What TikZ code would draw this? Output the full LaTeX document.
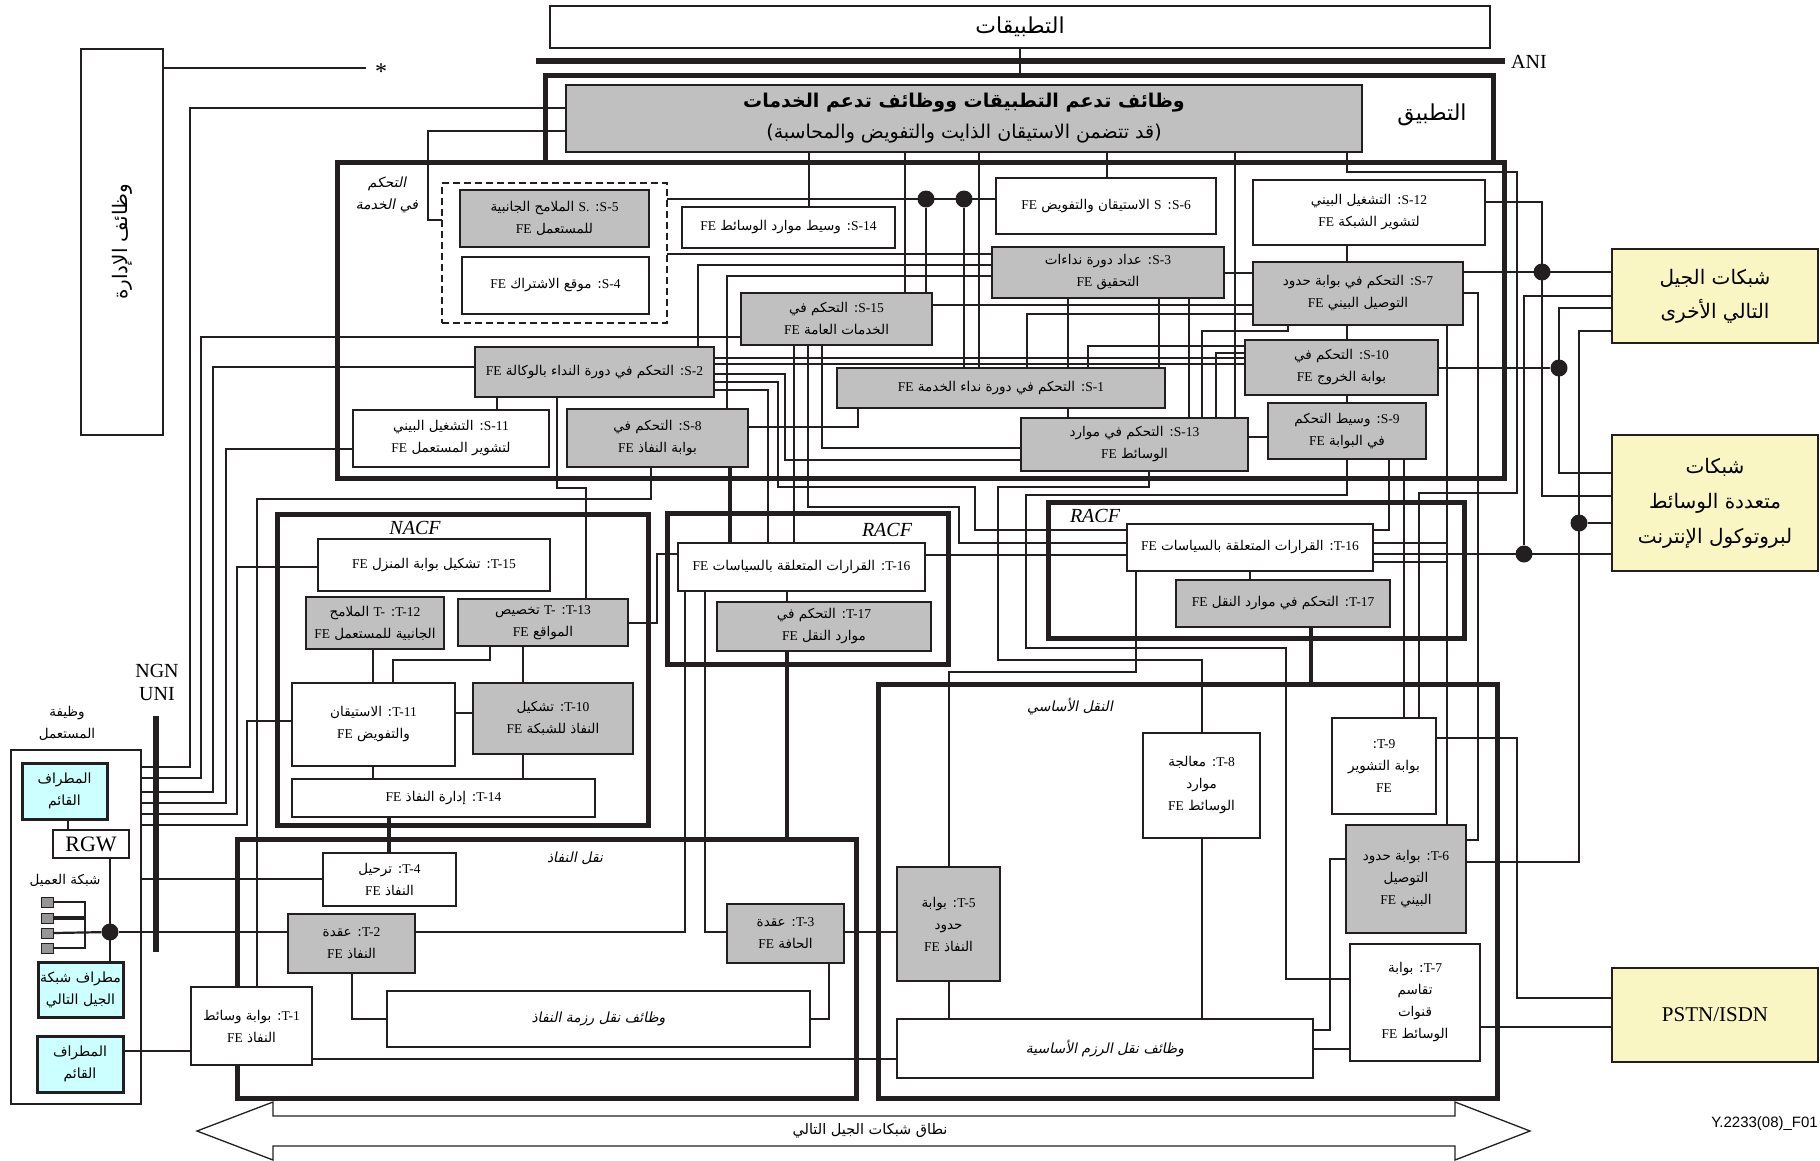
\documentclass[tikz,border=0pt]{standalone}
\usepackage{fontspec}
\setmainfont{Liberation Serif}
\newfontfamily\arabicfont[Script=Arabic]{DejaVu Sans}
\newfontfamily\arabicit[Script=Arabic,FakeSlant=0.2]{DejaVu Sans}
\newfontfamily\ysans{Liberation Sans}
\TeXXeTstate=1
\usetikzlibrary{fit}
\definecolor{lc}{RGB}{35,31,32}
\definecolor{gy}{RGB}{192,192,192}
\definecolor{yl}{RGB}{250,246,196}
\definecolor{cy}{RGB}{204,255,255}
\definecolor{sqc}{RGB}{150,150,150}
\newcommand\arb[1]{{\arabicfont\beginR #1\endR}}
\newcommand\ari[1]{{\arabicit\beginR #1\endR}}
\newcommand\ltr[1]{\beginL{\rmfamily #1}\endL}
\newcommand\fsz{\fontsize{13.5}{22}\selectfont}
% box node + centred text node
\newcommand\bx[8]{\node[#2, fit={(#4,#5) (#6,#7)}] (#1) {};\node[txt,#3] (#1t) at (#1.center) {#8};}
\pgfdeclarelayer{bg}
\pgfsetlayers{bg,main}
\tikzset{
  ln/.style={draw=lc, line width=2.2pt},
  tk/.style={draw=lc, line width=3.8pt},
  fe/.style={draw=lc, line width=2.4pt, fill=white, inner sep=0pt, outer sep=0pt},
  feg/.style={fe, fill=gy},
  frm/.style={draw=lc, line width=5pt, inner sep=0pt, outer sep=0pt},
  ext/.style={fe, fill=yl},
  term/.style={fe, fill=cy, line width=3pt},
  txt/.style={inner sep=0pt, align=center, font=\fsz},
  jd/.style={circle, fill=lc, inner sep=0pt, minimum size=17pt},
  lab/.style={inner sep=0pt, align=center},
  sqn/.style={draw=lc, fill=sqc, line width=1pt, minimum width=12pt, minimum height=10pt, inner sep=0pt},
}
\begin{document}
\begin{tikzpicture}[x=1pt,y=-1pt]
\useasboundingbox (0,0) rectangle (1820,1160);
% ---------- frames ----------
\node[frm, fit={(545,75) (1493,162)}] (fappl) {};
\node[frm, fit={(337,162) (1504,478)}] (fsc) {};
\node[frm, fit={(277,514) (648,825)}] (fnacf) {};
\node[frm, fit={(667,513) (948,664)}] (fracfa) {};
\node[frm, fit={(1048,502) (1464,638)}] (fracfb) {};
\node[frm, fit={(237,839) (856,1098)}] (fat) {};
\node[frm, fit={(878,684) (1497,1098)}] (fct) {};
\node[draw=lc, line width=2.2pt, dash pattern=on 7pt off 4pt, inner sep=0pt, outer sep=0pt, fit={(442,183) (667,323)}] (dsh) {};
\node[draw=lc, line width=2pt, inner sep=0pt, outer sep=0pt, fit={(11,750) (141,1104)}] (usr) {};
% ---------- top ----------
\bx{apps}{fe, line width=2pt}{font=\fontsize{22}{26}\selectfont}{550}{6}{1490}{48}{\arb{التطبيقات}}
\draw[draw=lc, line width=6pt] (536,61) -- (1505,61);
\node[anchor=west, inner sep=0pt, font=\fontsize{20}{20}\selectfont] (ani) at (1511,62) {ANI};
\bx{sup}{feg}{font=\fontsize{19}{24}\selectfont}{566}{85}{1362}{152}{{\bfseries\arb{وظائف تدعم التطبيقات ووظائف تدعم الخدمات}}\\[7pt]\arb{(قد تتضمن الاستيقان الذايت والتفويض والمحاسبة)}}
\node[lab, font=\fontsize{22}{26}\selectfont] (appl) at (1432,115) {\arb{التطبيق}};
\bx{mgmt}{fe}{rotate=90, font=\fontsize{20}{24}\selectfont}{81}{49}{163}{435}{\arb{وظائف الإدارة}}
\node[anchor=base, inner sep=0pt, font=\fontsize{24}{24}\selectfont] (star) at (381,79) {*};
% ---------- service control ----------
\node[lab, font=\fontsize{14}{22}\selectfont] (sclab) at (387,195) {\ari{التحكم}\\\ari{في الخدمة}};
\bx{S5}{feg}{}{460}{190}{649}{247}{\arb{\ltr{S-5}: \ltr{S.} الملامح الجانبية}\\\arb{للمستعمل \ltr{FE}}}
\bx{S4}{fe}{}{462}{257}{649}{314}{\arb{\ltr{S-4}: موقع الاشتراك \ltr{FE}}}
\bx{S14}{fe}{}{682}{207}{895}{248}{\arb{\ltr{S-14}: وسيط موارد الوسائط \ltr{FE}}}
\bx{S15}{feg}{}{741}{293}{932}{345}{\arb{\ltr{S-15}: التحكم في}\\\arb{الخدمات العامة \ltr{FE}}}
\bx{S6}{fe}{}{996}{178}{1216}{234}{\arb{\ltr{S-6}: \ltr{S} الاستيقان والتفويض \ltr{FE}}}
\bx{S3}{feg}{}{992}{247}{1224}{298}{\arb{\ltr{S-3}: عداد دورة نداءات}\\\arb{التحقيق \ltr{FE}}}
\bx{S12}{fe}{}{1253}{180}{1485}{245}{\arb{\ltr{S-12}: التشغيل البيني}\\\arb{لتشوير الشبكة \ltr{FE}}}
\bx{S7}{feg}{}{1253}{262}{1463}{325}{\arb{\ltr{S-7}: التحكم في بوابة حدود}\\\arb{التوصيل البيني \ltr{FE}}}
\bx{S10}{feg}{}{1245}{340}{1438}{395}{\arb{\ltr{S-10}: التحكم في}\\\arb{بوابة الخروج \ltr{FE}}}
\bx{S1}{feg}{}{837}{368}{1165}{408}{\arb{\ltr{S-1}: التحكم في دورة نداء الخدمة \ltr{FE}}}
\bx{S13}{feg}{}{1021}{418}{1248}{471}{\arb{\ltr{S-13}: التحكم في موارد}\\\arb{الوسائط \ltr{FE}}}
\bx{S9}{feg}{}{1268}{403}{1426}{459}{\arb{\ltr{S-9}: وسيط التحكم}\\\arb{في البوابة \ltr{FE}}}
\bx{S2}{feg}{}{475}{347}{714}{397}{\arb{\ltr{S-2}: التحكم في دورة النداء بالوكالة \ltr{FE}}}
\bx{S11}{fe}{}{353}{410}{549}{467}{\arb{\ltr{S-11}: التشغيل البيني}\\\arb{لتشوير المستعمل \ltr{FE}}}
\bx{S8}{feg}{}{567}{409}{748}{467}{\arb{\ltr{S-8}: التحكم في}\\\arb{بوابة النفاذ \ltr{FE}}}
% ---------- NACF ----------
\node[lab, font=\itshape\fontsize{20}{20}\selectfont] (nacfl) at (415,528) {NACF};
\bx{T15}{fe}{}{318}{539}{550}{591}{\arb{\ltr{T-15}: تشكيل بوابة المنزل \ltr{FE}}}
\bx{T12}{feg}{}{306}{597}{444}{649}{\arb{\ltr{T-12}: \ltr{T-} الملامح}\\\arb{الجانبية للمستعمل \ltr{FE}}}
\bx{T13}{feg}{}{458}{599}{628}{646}{\arb{\ltr{T-13}: \ltr{T-} تخصيص}\\\arb{المواقع \ltr{FE}}}
\bx{T11}{fe}{}{292}{683}{455}{766}{\arb{\ltr{T-11}: الاستيقان}\\\arb{والتفويض \ltr{FE}}}
\bx{T10}{feg}{}{473}{683}{633}{754}{\arb{\ltr{T-10}: تشكيل}\\\arb{النفاذ للشبكة \ltr{FE}}}
\bx{T14}{fe}{}{292}{779}{595}{817}{\arb{\ltr{T-14}: إدارة النفاذ \ltr{FE}}}
% ---------- RACF ----------
\node[lab, font=\itshape\fontsize{20}{20}\selectfont] (racfla) at (887,530) {RACF};
\bx{T16a}{fe}{}{678}{543}{925}{591}{\arb{\ltr{T-16}: القرارات المتعلقة بالسياسات \ltr{FE}}}
\bx{T17a}{feg}{}{717}{602}{931}{651}{\arb{\ltr{T-17}: التحكم في}\\\arb{موارد النقل \ltr{FE}}}
\node[lab, font=\itshape\fontsize{20}{20}\selectfont] (racflb) at (1095,516) {RACF};
\bx{T16b}{fe}{}{1127}{524}{1373}{571}{\arb{\ltr{T-16}: القرارات المتعلقة بالسياسات \ltr{FE}}}
\bx{T17b}{feg}{}{1176}{580}{1390}{627}{\arb{\ltr{T-17}: التحكم في موارد النقل \ltr{FE}}}
% ---------- core transport ----------
\node[lab, font=\fontsize{14}{20}\selectfont] (ctl) at (1070,707) {\ari{النقل الأساسي}};
\bx{T8}{fe}{}{1143}{733}{1260}{838}{\arb{\ltr{T-8}: معالجة}\\\arb{موارد}\\\arb{الوسائط \ltr{FE}}}
\bx{T9}{fe}{}{1332}{718}{1436}{814}{\arb{\ltr{T-9}:}\\\arb{بوابة التشوير}\\\arb{\ltr{FE}}}
\bx{T6}{feg}{}{1346}{825}{1466}{933}{\arb{\ltr{T-6}: بوابة حدود}\\\arb{التوصيل}\\\arb{البيني \ltr{FE}}}
\bx{T7}{fe}{}{1350}{944}{1480}{1061}{\arb{\ltr{T-7}: بوابة}\\\arb{تقاسم}\\\arb{قنوات}\\\arb{الوسائط \ltr{FE}}}
\bx{T5}{feg}{}{897}{867}{1000}{981}{\arb{\ltr{T-5}: بوابة}\\\arb{حدود}\\\arb{النفاذ \ltr{FE}}}
\bx{cpt}{fe}{font=\fontsize{14}{20}\selectfont}{897}{1019}{1313}{1078}{\ari{وظائف نقل الرزم الأساسية}}
% ---------- access transport ----------
\node[lab, font=\fontsize{14}{20}\selectfont] (atl) at (575,858) {\ari{نقل النفاذ}};
\bx{T4}{fe}{}{323}{853}{456}{906}{\arb{\ltr{T-4}: ترحيل}\\\arb{النفاذ \ltr{FE}}}
\bx{T2}{feg}{}{288}{914}{415}{973}{\arb{\ltr{T-2}: عقدة}\\\arb{النفاذ \ltr{FE}}}
\bx{T1}{fe}{}{191}{987}{312}{1065}{\arb{\ltr{T-1}: بوابة وسائط}\\\arb{النفاذ \ltr{FE}}}
\bx{T3}{feg}{}{727}{904}{844}{963}{\arb{\ltr{T-3}: عقدة}\\\arb{الحافة \ltr{FE}}}
\bx{apt}{fe}{font=\fontsize{14}{20}\selectfont}{387}{991}{810}{1047}{\ari{وظائف نقل رزمة النفاذ}}
% ---------- user side ----------
\node[lab, font=\fontsize{20}{23}\selectfont] (uni) at (157,682) {NGN\\UNI};
\draw[draw=lc, line width=6pt] (156,716) -- (156,952);
\node[lab, font=\fontsize{13.5}{22}\selectfont] (ufl) at (67,723) {\arb{وظيفة}\\\arb{المستعمل}};
\bx{lt1}{term}{font=\fontsize{14}{22}\selectfont}{22}{763}{107}{819}{\arb{المطراف}\\\arb{القائم}}
\bx{rgw}{fe, line width=2.6pt}{font=\fontsize{22}{22}\selectfont}{53}{830}{129}{858}{RGW}
\node[lab, font=\fontsize{13.5}{20}\selectfont] (cnl) at (65,880) {\arb{شبكة العميل}};
\node[sqn] (sq1) at (47,902) {};
\node[sqn] (sq2) at (47,918) {};
\node[sqn] (sq3) at (47,933) {};
\node[sqn] (sq4) at (47,948) {};
\bx{ngnt}{term}{font=\fontsize{14}{22}\selectfont}{38}{962}{123}{1017}{\arb{مطراف شبكة}\\\arb{الجيل التالي}}
\bx{lt2}{term}{font=\fontsize{14}{22}\selectfont}{37}{1036}{123}{1092}{\arb{المطراف}\\\arb{القائم}}
% ---------- external networks ----------
\bx{ongn}{ext}{font=\fontsize{20}{34}\selectfont}{1612}{249}{1818}{343}{\arb{شبكات الجيل}\\\arb{التالي الأخرى}}
\bx{ipmm}{ext}{font=\fontsize{20}{35}\selectfont}{1612}{435}{1818}{571}{\arb{شبكات}\\\arb{متعددة الوسائط}\\\arb{لبروتوكول الإنترنت}}
\bx{pstn}{ext}{font=\fontsize{21}{26}\selectfont}{1612}{968}{1818}{1062}{PSTN/ISDN}
% ---------- junction dots ----------
\node[jd] (j0) at (110,932) {};
\node[jd] (j1) at (926,199) {};
\node[jd] (j2) at (964,199) {};
\node[jd] (j3) at (1542,272) {};
\node[jd] (j4) at (1559,368) {};
\node[jd] (j5) at (1524,554) {};
\node[jd] (j6) at (1579,523) {};
% ---------- bottom ----------
\draw[draw=lc, line width=1.3pt] (197,1131) -- (273,1102) -- (273,1116) -- (1455,1116) -- (1455,1102) -- (1530,1131) -- (1455,1160) -- (1455,1146) -- (273,1146) -- (273,1160) -- cycle;
\node[lab, font=\fontsize{14.5}{20}\selectfont] (ngnscope) at (870,1131) {\arb{نطاق شبكات الجيل التالي}};
\node[anchor=east, inner sep=0pt, font=\ysans\fontsize{15}{17}\selectfont] (fig) at (1818,1124) {Y.2233(08)\_F01};
% ---------- connectors ----------
\begin{pgfonlayer}{bg}
\fill[white] (0,0) rectangle (1820,1160);
\draw[ln] (apps.south -| 1020,0) -- (fappl.north -| 1020,0);
\draw[ln] (mgmt.east |- 0,68) -- (366,68);
\draw[ln] (usr.east |- 0,767) -| (190,108) -- (sup.west |- 0,108);
\draw[ln] (usr.east |- 0,778) -| (201,337) -- (S15.west |- 0,337);
\draw[ln] (usr.east |- 0,792) -| (213,367) -- (S2.west |- 0,367);
\draw[ln] (usr.east |- 0,803) -| (226,449) -- (S11.west |- 0,449);
\draw[ln] (usr.east |- 0,814) -| (237,567) -- (T15.west |- 0,567);
\draw[ln] (usr.east |- 0,825) -| (247,721) -- (T11.west |- 0,721);
\draw[ln] (sup.west |- 0,131) -| (428,220) -- (dsh.west |- 0,220);
\draw[ln] (sup.south -| 809,0) -- (S14.north -| 809,0);
\draw[ln] (sup.south -| 905,0) -- (S15.north -| 905,0);
\draw[ln] (sup.south -| 979,0) -- (S1.north -| 979,0);
\draw[ln] (sup.south -| 1107,0) -- (S6.north -| 1107,0);
\draw[ln] (sup.south -| 1235,0) -- (S13.north -| 1235,0);
\draw[ln] (sup.south -| 1347,0) -- (1347,172) -- (1517,172) -- (1517,493) -- (1419,493) -- (T9.north -| 1419,0);
\draw[ln] (dsh.east |- 0,199) -- (S6.west |- 0,199);
\draw[ln] (j1) -- (S15.north -| j1);
\draw[ln] (j2) -- (S1.north -| j2);
\draw[ln] (dsh.east |- 0,254) -- (S3.west |- 0,254);
\draw[ln] (S2.north -| 698,0) |- (S3.west |- 0,265);
\draw[ln] (S8.north -| 727,0) |- (S3.west |- 0,276);
\draw[ln] (S3.east |- 0,273) -- (S7.west |- 0,273);
\draw[ln] (S3.south -| 1068,0) -- (S1.north -| 1068,0);
\draw[ln] (S3.south -| 1159,0) -- (S1.north -| 1159,0);
\draw[ln] (S3.south -| 1189,0) -- (S13.north -| 1189,0);
\draw[ln] (S12.south -| 1347,0) -- (S7.north -| 1347,0);
\draw[ln] (S7.south -| 1347,0) -- (S10.north -| 1347,0);
\draw[ln] (S10.south -| 1347,0) -- (S9.north -| 1347,0);
\draw[ln] (S15.east |- 0,305) -- (S7.west |- 0,305);
\draw[ln] (S7.west |- 0,314) -| (S1.north -| 1027,0);
\draw[ln] (S7.south -| 1288,0) -- (1288,331) -| (S13.north -| 1202,0);
\draw[ln] (S10.west |- 0,346) -| (S1.north -| 1088,0);
\draw[ln] (S10.west |- 0,353) -| (S13.north -| 1216,0);
\draw[ln] (S2.east |- 0,358) -- (S10.west |- 0,358);
\draw[ln] (S2.east |- 0,364) -- (S10.west |- 0,364);
\draw[ln] (S2.east |- 0,374) -| (785,460) -- (S13.west |- 0,460);
\draw[ln] (S2.east |- 0,382) -| (778,487) -| (975,530) -- (T16b.west |- 0,530);
\draw[ln] (S2.east |- 0,390) -| (T16a.north -| 768,0);
\draw[ln] (S15.south -| 794,0) -- (T16a.north -| 794,0);
\draw[ln] (S15.south -| 808,0) |- (959,507) |- (T16b.west |- 0,543);
\draw[ln] (S15.south -| 822,0) |- (S13.west |- 0,448);
\draw[ln] (S8.east |- 0,427) -| (S1.south -| 858,0);
\draw[ln] (S8.south -| 651,0) |- (257,499) -- (T1.north -| 257,0);
\draw[tk] (S8.south -| 730,0) -- (T16a.north -| 730,0);
\draw[ln] (S2.south -| 497,0) -- (S11.north -| 497,0);
\draw[ln] (S2.south -| 557,0) |- (586,488) -- (T13.north -| 586,0);
\draw[ln] (S13.east |- 0,437) -- (S9.west |- 0,437);
\draw[ln] (S1.south -| 1068,0) -- (S13.north -| 1068,0);
\draw[ln] (S13.south -| 1149,0) |- (998,487) |- (1202,660) -- (T8.north -| 1202,0);
\draw[ln] (S9.south -| 1347,0) |- (1026,495) |- (1286,648) |- (T7.west |- 0,979);
\draw[ln] (S9.south -| 1389,0) |- (T16b.east |- 0,530);
\draw[ln] (S9.south -| 1404,0) -- (T9.north -| 1404,0);
\draw[ln] (S7.south -| 1447,0) -- (T6.north -| 1447,0);
\draw[ln] (T16b.east |- 0,543) -- (1447,543);
\draw[ln] (T16b.east |- 0,562) -- (1447,562);
\draw[ln] (S7.east |- 0,293) -| (1478,840) -- (T6.east |- 0,840);
\draw[ln] (S7.east |- 0,272) -- (ongn.west |- 0,272);
\draw[ln] (S12.east |- 0,202) -| (1542,496) -- (ipmm.west |- 0,496);
\draw[ln] (ongn.west |- 0,296) -| (j5);
\draw[ln] (T16b.east |- 0,554) -- (ipmm.west |- 0,554);
\draw[ln] (ongn.west |- 0,308) -| (1559,473) -- (ipmm.west |- 0,473);
\draw[ln] (S10.east |- 0,368) -- (j4);
\draw[ln] (ongn.west |- 0,331) -| (1579,862) -- (T6.east |- 0,862);
\draw[ln] (j6) -- (ipmm.west |- j6);
\draw[ln] (T9.east |- 0,738) -| (1517,998) -- (pstn.west |- 0,998);
\draw[ln] (T7.east |- 0,1027) -- (pstn.west |- 0,1027);
\draw[ln] (T16a.east |- 0,555) -- (T16b.west |- 0,555);
\draw[ln] (T16a.south -| 787,0) -- (T17a.north -| 787,0);
\draw[tk] (T17a.south -| 787,0) -- (fat.north -| 787,0);
\draw[ln] (T16a.west |- 0,554) -| (657,623) -- (T13.east |- 0,623);
\draw[ln] (T16a.south -| 685,0) |- (T2.east |- 0,932);
\draw[ln] (T16a.south -| 705,0) |- (T3.west |- 0,932);
\draw[ln] (T16b.south -| 1250,0) -- (T17b.north -| 1250,0);
\draw[tk] (T17b.south -| 1311,0) -- (fct.north -| 1311,0);
\draw[ln] (T16b.south -| 1136,0) |- (949,672) -- (T5.north -| 949,0);
\draw[ln] (T13.south -| 490,0) |- (393,660) -- (T11.north -| 393,0);
\draw[ln] (T13.south -| 523,0) -- (T10.north -| 523,0);
\draw[ln] (T12.south -| 373,0) -- (T11.north -| 373,0);
\draw[ln] (T11.east |- 0,713) -- (T10.west |- 0,713);
\draw[ln] (T11.south -| 373,0) -- (T14.north -| 373,0);
\draw[ln] (T10.south -| 523,0) -- (T14.north -| 523,0);
\draw[tk] (T14.south -| 389,0) -- (T4.north -| 389,0);
\draw[ln] (usr.east |- 0,879) -- (T4.west |- 0,879);
\draw[ln] (j0) -- (T2.west |- j0);
\draw[ln] (lt2.east |- 0,1051) -- (T1.west |- 0,1051);
\draw[ln] (T2.south -| 352,0) |- (apt.west |- 0,1019);
\draw[ln] (T3.south -| 829,0) |- (apt.east |- 0,1019);
\draw[ln] (T3.east |- 0,932) -- (T5.west |- 0,932);
\draw[ln] (T1.east |- 0,1059) -- (cpt.west |- 0,1059);
\draw[ln] (T5.south -| 949,0) -- (cpt.north -| 949,0);
\draw[ln] (T8.south -| 1202,0) -- (cpt.north -| 1202,0);
\draw[ln] (cpt.east |- 0,1030) -| (1330,859) -- (T6.west |- 0,859);
\draw[ln] (cpt.east |- 0,1049) -- (T7.west |- 0,1049);
\draw[ln] (lt1.south -| 68,0) -- (rgw.north -| 68,0);
\draw[ln] (rgw.south -| j0) -- (ngnt.north -| j0);
\draw[ln] (sq1.east) -- (85,902) -- (85,948) -- (sq4.east);
\draw[draw=lc, line width=3.4pt] (sq2.east) -- (85,918);
\draw[ln] (sq3.east) -- (j0);
\end{pgfonlayer}
\end{tikzpicture}
\end{document}
